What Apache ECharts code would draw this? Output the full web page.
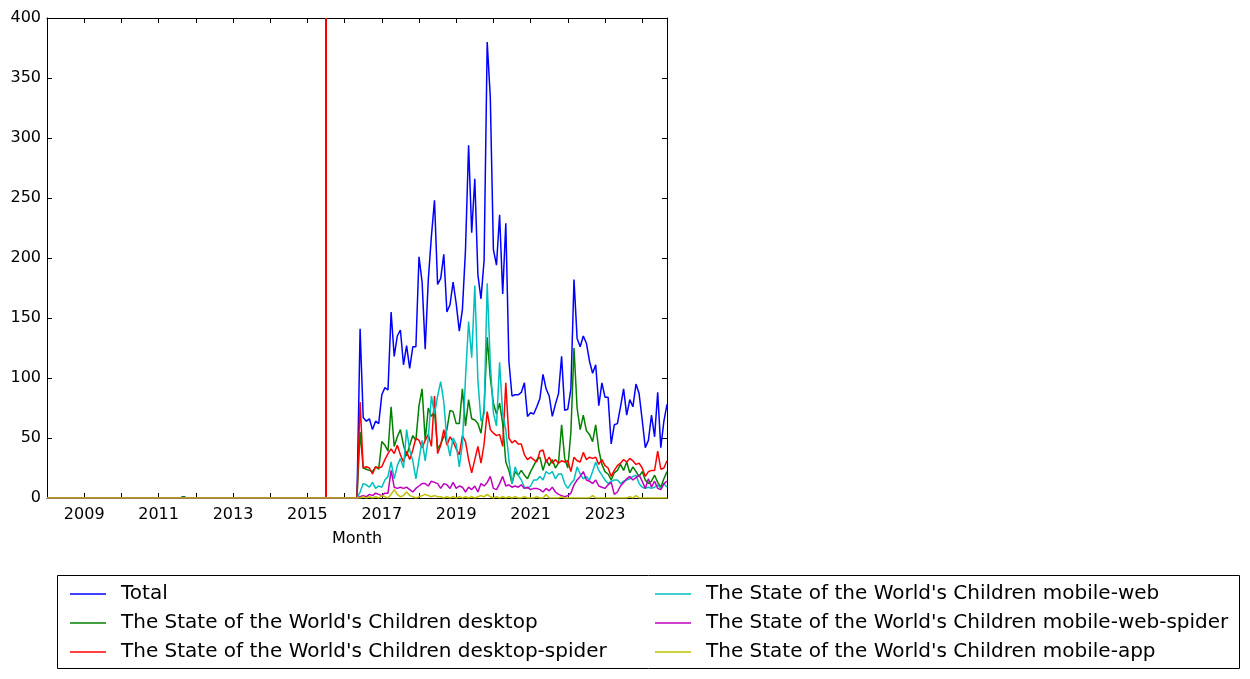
<!DOCTYPE html>
<html>
<head>
<meta charset="utf-8">
<script src="https://cdn.jsdelivr.net/npm/echarts@6/dist/echarts.min.js"></script>
<style>
html,body{margin:0;padding:0;background:#fff;}
#chart{width:1250px;height:679px;}
</style>
</head>
<body>
<div id="chart"></div>
<script>
// ---------- DATA ----------
const seriesNames = [
  "Total",
  "The State of the World's Children desktop",
  "The State of the World's Children desktop-spider",
  "The State of the World's Children mobile-web",
  "The State of the World's Children mobile-web-spider",
  "The State of the World's Children mobile-app"
];
const firstMonth = [2008, 1];
const lastMonth = [2024, 9];
const redLineMonth = "2015-07";
const xTickLabels = ["2009","2011","2013","2015","2017","2019","2021","2023"];

// 2008-01 .. 2016-05 (101 months)
const earlyZero = [
 0,0,0,0,0,0,0,0,0,0, 0,0,0,0,0,0,0,0,0,0, 0,0,0,0,0,0,0,0,0,0, 0,0,0,0,0,0,0,0,0,0,
 0,0,0,0,0,0,0,0,0,0, 0,0,0,0,0,0,0,0,0,0, 0,0,0,0,0,0,0,0,0,0, 0,0,0,0,0,0,0,0,0,0,
 0,0,0,0,0,0,0,0,0,0, 0,0,0,0,0,0,0,0,0,0, 0
];
const earlyWithBlip = [
 0,0,0,0,0,0,0,0,0,0, 0,0,0,0,0,0,0,0,0,0, 0,0,0,0,0,0,0,0,0,0, 0,0,0,0,0,0,0,0,0,0,
 0,0,0,0,1,0,0,0,0,0, 0,0,0,0,0,0,0,0,0,0, 0,0,0,0,0,0,0,0,0,0, 0,0,0,0,0,0,0,0,0,0,
 0,0,0,0,0,0,0,0,0,0, 0,0,0,0,0,0,0,0,0,0, 0
];

// 2016-06 .. 2024-09 (100 months)
const totalRecent = [
 141,67,64,66,57,64,62,86,92,90,
 155,118,135,140,111,127,108,126,126,201,
 180,124,182,218,248,178,183,203,155,161,
 180,162,139,157,207,294,221,266,186,166,
 198,380,334,207,194,236,170,229,114,85,
 86,86,88,96,68,71,70,76,83,103,
 91,85,68,78,87,118,73,74,91,182,
 133,126,135,129,114,104,111,77,96,84,
 84,45,61,62,76,91,69,82,76,95,
 87,65,42,48,69,51,88,42,64,78
];
const desktopRecent = [
 55,25,24,23,22,26,24,47,44,39,
 76,43,51,57,44,35,44,52,48,77,
 91,48,75,68,72,41,45,51,57,73,
 72,62,62,91,60,82,66,65,62,54,
 75,134,100,79,70,79,62,30,23,12,
 22,19,23,19,16,22,27,32,34,23,
 32,27,32,25,29,61,33,25,55,125,
 75,57,69,56,53,47,61,40,28,22,
 20,15,21,23,28,23,30,21,26,22,
 18,22,15,12,14,19,13,9,16,22
];
const desktopSpiderRecent = [
 80,25,26,25,20,26,25,26,32,37,
 41,37,44,36,30,39,32,40,50,48,
 42,48,53,43,85,37,44,57,44,51,
 47,41,36,52,47,32,21,32,43,29,
 45,72,57,54,52,53,43,96,50,46,
 48,45,45,36,32,34,32,30,39,40,
 30,34,29,32,29,31,30,31,22,34,
 31,30,38,32,34,33,34,28,32,27,
 25,18,23,27,29,32,30,33,31,28,
 29,25,18,22,23,23,39,24,25,31
];
const mobileWebRecent = [
 5,12,11,9,13,8,10,9,15,18,
 30,16,27,33,25,57,40,31,16,32,
 48,31,50,85,70,85,97,80,48,35,
 50,45,26,45,100,147,117,177,98,64,
 70,179,112,71,60,113,70,57,32,12,
 26,19,15,9,8,10,15,15,18,15,
 22,20,22,16,20,20,12,8,12,15,
 26,20,16,18,15,22,30,23,19,15,
 12,14,15,15,12,14,15,16,18,19,
 12,9,8,9,8,9,11,8,12,9
];
const mobileWebSpiderRecent = [
 1,2,1,3,2,4,3,2,4,4,
 23,9,8,9,8,9,7,5,8,10,
 12,12,10,14,13,12,8,12,11,8,
 13,8,10,9,5,9,7,10,5,12,
 10,13,18,8,7,12,18,10,11,9,
 10,9,11,8,9,7,8,8,7,5,
 8,6,9,5,3,2,1,2,4,11,
 15,18,22,15,14,12,15,10,9,8,
 11,13,3,5,10,13,16,18,15,17,
 19,14,8,16,9,14,8,7,12,14
];
const mobileAppRecent = [
 0,1,0,1,0,1,0,2,1,0,
 3,7,3,1,2,5,2,1,0,1,
 2,3,2,1,2,1,1,0,1,0,
 1,0,1,0,1,0,1,0,1,2,
 1,3,1,0,1,0,1,0,1,0,
 1,0,0,1,0,0,0,1,0,0,
 3,0,0,0,0,1,0,0,0,0,
 0,0,0,0,0,2,0,0,0,0,
 0,0,0,0,0,0,0,1,0,2,
 0,0,0,0,0,0,0,0,0,0
];

// ---------- BUILD ----------
const months = [];
for (let y = firstMonth[0], m = firstMonth[1]; y < lastMonth[0] || (y === lastMonth[0] && m <= lastMonth[1]); ) {
  months.push(y + "-" + String(m).padStart(2, "0"));
  m++; if (m > 12) { m = 1; y++; }
}
const seriesValues = [
  earlyWithBlip.concat(totalRecent),
  earlyWithBlip.concat(desktopRecent),
  earlyZero.concat(desktopSpiderRecent),
  earlyZero.concat(mobileWebRecent),
  earlyZero.concat(mobileWebSpiderRecent),
  earlyZero.concat(mobileAppRecent)
];
const colors = ["#0000ff", "#008000", "#ff0000", "#00bfbf", "#bf00bf", "#bfbf00"];
const FONT = "DejaVu Sans";

const series = seriesNames.map((name, si) => {
  const s = {
    name: name,
    type: "line",
    data: seriesValues[si].map((v, i) => [i, v]),
    showSymbol: false,
    symbol: "none",
    lineStyle: { color: colors[si], width: 1.5 },
    itemStyle: { color: colors[si] },
    color: colors[si],
    z: 2 + si
  };
  if (si === 0) {
    s.markLine = {
      silent: true,
      symbol: ["none", "none"],
      label: { show: false },
      lineStyle: { color: "#ff0000", width: 2, type: "solid" },
      data: [{ xAxis: months.indexOf(redLineMonth) }]
    };
  }
  return s;
});

const axisCommonX = {
  type: "value", min: 0, max: months.length - 1, interval: 12,
  axisLine: { show: true, onZero: false, lineStyle: { color: "#000", width: 1 } },
  axisTick: { show: true, inside: true, length: 5, lineStyle: { color: "#000", width: 1 } },
  splitLine: { show: false }
};
const axisCommonY = {
  type: "value", min: 0, max: 400, interval: 50,
  axisLine: { show: true, onZero: false, lineStyle: { color: "#000", width: 1 } },
  axisTick: { show: true, inside: true, length: 5, lineStyle: { color: "#000", width: 1 } },
  splitLine: { show: false }
};

const option = {
  animation: false,
  backgroundColor: "#fff",
  grid: { left: 47, top: 18, width: 620, height: 480, containLabel: false },
  xAxis: [
    Object.assign({}, axisCommonX, {
      position: "bottom",
      axisLabel: {
        show: true, margin: 9, fontSize: 16, color: "#000", fontFamily: FONT,
        formatter: function (v) {
          const lbl = months[Math.round(v)];
          if (!lbl) return "";
          const yr = lbl.slice(0, 4);
          return xTickLabels.indexOf(yr) >= 0 ? yr : "";
        }
      },
      name: "Month", nameLocation: "middle", nameGap: 33,
      nameTextStyle: { fontSize: 16, color: "#000", fontFamily: FONT }
    }),
    Object.assign({}, axisCommonX, { position: "top", axisLabel: { show: false } })
  ],
  yAxis: [
    Object.assign({}, axisCommonY, {
      position: "left",
      axisLabel: { show: true, margin: 6, fontSize: 16, color: "#000", fontFamily: FONT }
    }),
    Object.assign({}, axisCommonY, { position: "right", axisLabel: { show: false } })
  ],
  graphic: [{
    type: "rect", z: 0,
    shape: { x: 57.5, y: 575.5, width: 1182, height: 93 },
    style: { fill: "#fff", stroke: "#000", lineWidth: 1 }
  }],
  legend: [
    {
      data: seriesNames.slice(0, 3), left: 70, top: 584, orient: "vertical",
      itemGap: 9, padding: 0, itemWidth: 36, itemHeight: 1.5, icon: "rect", z: 10,
      textStyle: { fontSize: 20, lineHeight: 20, color: "#000", fontFamily: FONT, padding: [0, 0, 0, 10] }
    },
    {
      data: seriesNames.slice(3, 6), left: 655, top: 584, orient: "vertical",
      itemGap: 9, padding: 0, itemWidth: 36, itemHeight: 1.5, icon: "rect", z: 10,
      textStyle: { fontSize: 20, lineHeight: 20, color: "#000", fontFamily: FONT, padding: [0, 0, 0, 10] }
    }
  ],
  series: series
};

const chart = echarts.init(document.getElementById("chart"), null, { renderer: "canvas" });
chart.setOption(option);
</script>
</body>
</html>
